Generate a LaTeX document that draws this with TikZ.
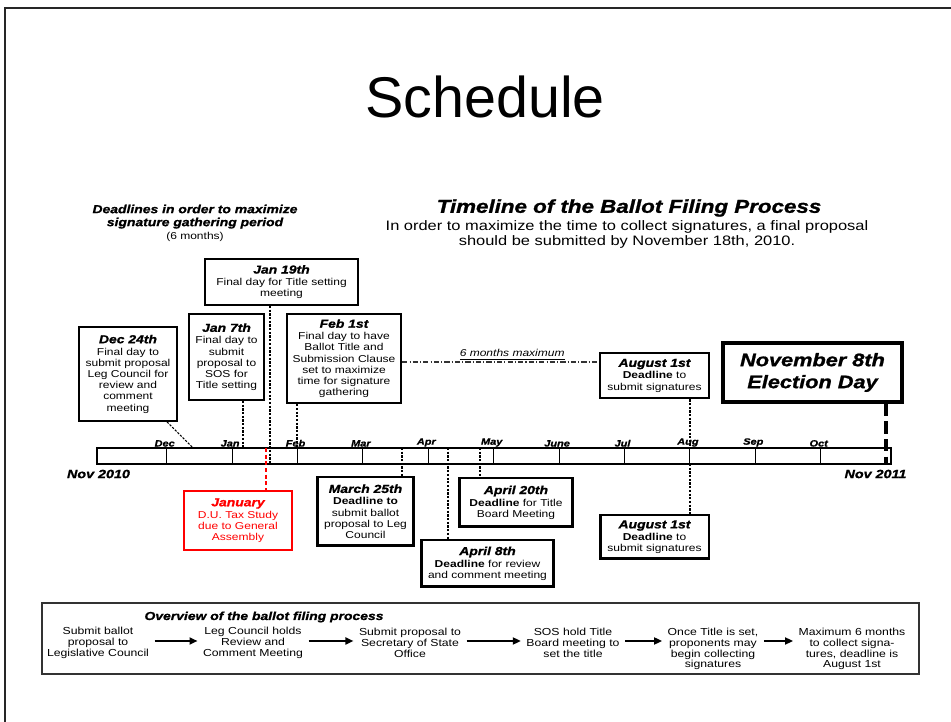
\documentclass[tikz,border=0pt]{standalone}
\usepackage{fontspec}
\setmainfont{Liberation Sans}
\newfontfamily\diagfont{Liberation Sans}[FakeStretch=1.2, BoldItalicFeatures={FakeBold=1.2}]
\usetikzlibrary{arrows.meta}

\newcommand{\bodytxt}{\diagfont\fontsize{5.7}{6.35}\selectfont}
\newcommand{\dhead}[1]{{\fontsize{6.6}{6.6}\selectfont\bfseries\itshape #1}}

\begin{document}
\begin{tikzpicture}[x=0.02cm, y=-0.02cm,
    datebox/.style={draw, line width=1.1pt, align=center, inner sep=1pt, font=\bodytxt},
    lowbox/.style={datebox, line width=1.7pt},
    dropline/.style={line width=0.6pt, dash pattern=on 1.3pt off 0.8pt},
    month/.style={anchor=south, inner sep=0.6pt, font=\diagfont\fontsize{5.2}{5.2}\selectfont\bfseries\itshape},
    stage/.style={align=center, inner sep=3pt, font=\diagfont\fontsize{5.8}{6.2}\selectfont},
    flow/.style={line width=0.9pt, -{Triangle[length=4.5pt, width=4pt]}}]
  \useasboundingbox (0,0) rectangle (951,722);
  \draw[line width=1.2pt, black!85] (5,722) -- (5,8) -- (951,8);

  \node[font=\fontsize{32.7}{36}\selectfont] at (485,97) (title) {Schedule};

  % headings
  \node[align=center, font=\diagfont\fontsize{6.6}{7.4}\selectfont\bfseries\itshape] at (195,223) (gather)
    {Deadlines in order to maximize\\signature gathering period\\{\bodytxt\mdseries\upshape (6 months)}};
  \node[font=\diagfont\fontsize{10.6}{11}\selectfont\bfseries\itshape] at (629,208) (tl)
    {Timeline of the Ballot Filing Process};
  \node[align=center, font=\diagfont\fontsize{7.8}{8.5}\selectfont] at (627,234) (tlsub)
    {In order to maximize the time to collect signatures, a final proposal\\should be submitted by November 18th, 2010.};

  % timeline bar
  \node[draw, line width=0.9pt, minimum width=15.88cm, minimum height=0.32cm, inner sep=0pt] at (494,456) (bar) {};
  \foreach \m [count=\i from 0] in {Dec,Jan,Feb,Mar,Apr,May,June,Jul,Aug,Sep,Oct} {
    \draw[line width=0.6pt] (166.7+65.4*\i,448) -- (166.7+65.4*\i,464);
    \node[month] at (164.7+65.4*\i,448) (m\i) {\m};
  }
  \node[font=\diagfont\fontsize{6.8}{7}\selectfont\bfseries\itshape] at (98.5,474) (nov10) {Nov 2010};
  \node[font=\diagfont\fontsize{6.8}{7}\selectfont\bfseries\itshape] at (875.5,474) (nov11) {Nov 2011};

  % boxes above the bar
  \node[datebox, minimum width=1.96cm, minimum height=1.88cm] at (128,374) (dec)
    {\dhead{Dec 24th}\\[0.5pt]Final day to\\submit proposal\\Leg Council for\\review and\\comment\\meeting};
  \node[datebox, minimum width=1.5cm, minimum height=1.72cm] at (226.5,357) (jana)
    {\dhead{Jan 7th}\\[0.5pt]Final day to\\submit\\proposal to\\SOS for\\Title setting};
  \node[datebox, minimum width=3.06cm, minimum height=0.92cm] at (281.5,282) (janb)
    {\dhead{Jan 19th}\\[0.5pt]Final day for Title setting\\meeting};
  \node[datebox, line width=1.3pt, minimum width=2.28cm, minimum height=1.78cm] at (344,358.5) (feb)
    {\dhead{Feb 1st}\\[0.5pt]Final day to have\\Ballot Title and\\Submission Clause\\set to maximize\\time for signature\\gathering};
  \node[datebox, line width=1.5pt, minimum width=2.18cm, minimum height=0.9cm] at (654.5,375.5) (augu)
    {\dhead{August 1st}\\[0.5pt]\textbf{Deadline} to\\submit signatures};
  \node[datebox, line width=2.2pt, minimum width=3.58cm, minimum height=1.18cm,
        font=\diagfont\fontsize{10.3}{12.5}\selectfont\bfseries\itshape] at (812.5,372.5) (nov)
    {November 8th\\Election Day};

  % boxes below the bar
  \node[datebox, draw=red, text=red, minimum width=2.16cm, minimum height=1.18cm] at (238,520.5) (jan)
    {\dhead{January}\\[0.5pt]D.U. Tax Study\\due to General\\Assembly};
  \node[lowbox, minimum width=1.94cm, minimum height=1.38cm] at (365.5,511.5) (mar)
    {\dhead{March 25th}\\[0.5pt]\textbf{Deadline to}\\submit ballot\\proposal to Leg\\Council};
  \node[lowbox, minimum width=2.66cm, minimum height=0.94cm] at (487.5,563.5) (apra)
    {\dhead{April 8th}\\[0.5pt]\textbf{Deadline} for review\\and comment meeting};
  \node[lowbox, minimum width=2.28cm, minimum height=0.98cm] at (516,502.5) (aprb)
    {\dhead{April 20th}\\[0.5pt]\textbf{Deadline} for Title\\Board Meeting};
  \node[lowbox, minimum width=2.18cm, minimum height=0.88cm] at (654.5,537) (augl)
    {\dhead{August 1st}\\[0.5pt]\textbf{Deadline} to\\submit signatures};

  % ties to the bar
  \coordinate (tdec) at (193,448);
  \coordinate (tjana) at (243,448);
  \coordinate (tjanb) at (270,464);
  \coordinate (tfeb) at (297,448);
  \coordinate (taugu) at (690,448);
  \coordinate (tnov) at (886,464);
  \coordinate (tjan) at (266,448);
  \coordinate (tmar) at (402,448);
  \coordinate (tapra) at (448,448);
  \coordinate (taprb) at (480,448);
  \coordinate (taugl) at (690,464);
  \coordinate (sixy) at (0,362);
  \draw[dropline] ([xshift=-0.22cm]dec.south east) -- (tdec);
  \draw[dropline] (tjana |- jana.south) -- (tjana);
  \draw[dropline] (tjanb |- janb.south) -- (tjanb);
  \draw[dropline] (tfeb |- feb.south) -- (tfeb);
  \draw[dropline] (taugu |- augu.south) -- (taugu);
  \draw[line width=2.3pt, dash pattern=on 7pt off 3pt] (tnov |- nov.south) -- (tnov);
  \draw[red, line width=0.7pt, dash pattern=on 2.2pt off 1.6pt] (tjan) -- (tjan |- jan.north);
  \draw[dropline] (tmar) -- (tmar |- mar.north);
  \draw[dropline] (tapra) -- (tapra |- apra.north);
  \draw[dropline] (taprb) -- (taprb |- aprb.north);
  \draw[dropline] (taugl) -- (taugl |- augl.north);
  \draw[line width=0.6pt, black!80, dash pattern=on 3pt off 1.2pt on 0.6pt off 1.2pt]
    (feb.east |- sixy) -- (augu.west |- sixy)
    node[pos=0.56, above, inner sep=0.8pt, text=black, font=\bodytxt\itshape] (sixmo) {\underline{6 months maximum}};

  % overview
  \node[draw=black!80, line width=1pt, minimum width=17.54cm, minimum height=1.42cm] at (480.5,638.5) (ovbox) {};
  \node[font=\diagfont\fontsize{6.6}{6.6}\selectfont\bfseries\itshape] at (264,617) (ovhead)
    {Overview of the ballot filing process};
  \node[stage] at (98,643) (s1) {Submit ballot\\proposal to\\Legislative Council};
  \node[stage] at (253,643) (s2) {Leg Council holds\\Review and\\Comment Meeting};
  \node[stage] at (410,643) (s3) {Submit proposal to\\Secretary of State\\Office};
  \node[stage] at (573,643) (s4) {SOS hold Title\\Board meeting to\\set the title};
  \node[stage] at (713,649) (s5) {Once Title is set,\\proponents may\\begin collecting\\signatures};
  \node[stage] at (852,649) (s6) {Maximum 6 months\\to collect signa-\\tures, deadline is\\August 1st};
  \coordinate (ay) at (0,641);
  \foreach \a/\b in {s1/s2,s2/s3,s3/s4,s4/s5,s5/s6}
    \draw[flow] (\a.east |- ay) -- (\b.west |- ay);
\end{tikzpicture}
\end{document}
